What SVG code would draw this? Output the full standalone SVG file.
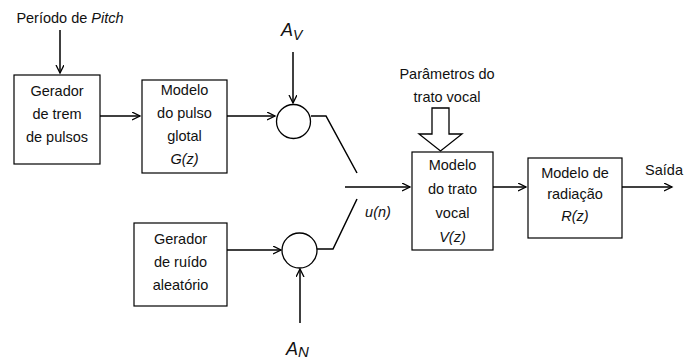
<svg xmlns="http://www.w3.org/2000/svg" width="692" height="361" viewBox="0 0 692 361">
<defs>
<marker id="arr" markerWidth="10" markerHeight="10" refX="8" refY="4" orient="auto" markerUnits="userSpaceOnUse">
<path d="M0,0 L8,4 L0,8" fill="none" stroke="#000" stroke-width="1.3"/>
</marker>
<style>
.box{fill:#fff;stroke:#000;stroke-width:1.2}
.t{font-family:"Liberation Sans",Arial,sans-serif;font-size:14.5px;fill:#111;text-anchor:middle}
.i{font-style:italic}
.ln{fill:none;stroke:#000;stroke-width:1.5}
.big{font-family:"Liberation Sans",Arial,sans-serif;font-size:18px;fill:#111}
</style>
</defs>
<rect width="692" height="361" fill="#fff"/>
<g id="connectors">
<line class="ln" x1="60" y1="30" x2="60" y2="73" marker-end="url(#arr)"/>
<line class="ln" x1="100" y1="116" x2="140" y2="116" marker-end="url(#arr)"/>
<line class="ln" x1="227" y1="116" x2="275" y2="116" marker-end="url(#arr)"/>
<line class="ln" x1="293" y1="52" x2="293" y2="103" marker-end="url(#arr)"/>
<polyline class="ln" points="311,116 326,116 357,173"/>
<line class="ln" x1="227" y1="250" x2="281" y2="250" marker-end="url(#arr)"/>
<line class="ln" x1="300" y1="323" x2="300" y2="269" marker-end="url(#arr)"/>
<polyline class="ln" points="317,249 333,249 357,199"/>
<line class="ln" x1="345" y1="187" x2="410" y2="187" marker-end="url(#arr)"/>
<line class="ln" x1="493" y1="187" x2="526" y2="187" marker-end="url(#arr)"/>
<line class="ln" x1="622" y1="187" x2="672" y2="187" marker-end="url(#arr)"/>
<path d="M432,108 L449,108 L449,134 L462,134 L440.5,151 L419,134 L432,134 Z" fill="#fff" stroke="#000" stroke-width="1.3"/>
</g>
<g id="pitch-label"><text class="t" x="70" y="23">Período de <tspan class="i">Pitch</tspan></text></g>
<g id="gerador-pulsos">
<rect class="box" x="14" y="75" width="86" height="89"/>
<text class="t" x="57" y="96">Gerador</text>
<text class="t" x="57" y="119">de trem</text>
<text class="t" x="57" y="142">de pulsos</text>
</g>
<g id="pulso-glotal">
<rect class="box" x="142" y="80" width="85" height="93"/>
<text class="t" x="184.5" y="95">Modelo</text>
<text class="t" x="184.5" y="118">do pulso</text>
<text class="t" x="184.5" y="141">glotal</text>
<text class="t i" x="184.5" y="164">G(z)</text>
</g>
<g id="mult-v">
<circle cx="293.5" cy="121.5" r="17" fill="#fff" stroke="#000" stroke-width="1.3"/>
</g>
<g id="av-label"><text class="big" x="281" y="36"><tspan class="i">A</tspan><tspan class="i" font-size="14" dy="4">V</tspan></text></g>
<g id="gerador-ruido">
<rect class="box" x="134" y="223" width="93" height="83"/>
<text class="t" x="180.5" y="244">Gerador</text>
<text class="t" x="180.5" y="267">de ruído</text>
<text class="t" x="180.5" y="290">aleatório</text>
</g>
<g id="mult-n">
<circle cx="299.5" cy="250.5" r="17.5" fill="#fff" stroke="#000" stroke-width="1.3"/>
</g>
<g id="an-label"><text class="big" x="286" y="355"><tspan class="i">A</tspan><tspan class="i" font-size="15" dy="2">N</tspan></text></g>
<g id="un-label"><text class="t i" x="378" y="217">u(n)</text></g>
<g id="params-label">
<text class="t" x="447" y="79">Parâmetros do</text>
<text class="t" x="447" y="102">trato vocal</text>
</g>
<g id="trato-vocal">
<rect class="box" x="412" y="152" width="81" height="98"/>
<text class="t" x="452.5" y="170">Modelo</text>
<text class="t" x="452.5" y="194">do trato</text>
<text class="t" x="452.5" y="218">vocal</text>
<text class="t i" x="452.5" y="242">V(z)</text>
</g>
<g id="radiacao">
<rect class="box" x="528" y="158" width="94" height="80"/>
<text class="t" x="575" y="178">Modelo de</text>
<text class="t" x="575" y="199">radiação</text>
<text class="t i" x="575" y="221">R(z)</text>
</g>
<g id="saida-label"><text class="t" x="664" y="175">Saída</text></g>
</svg>
